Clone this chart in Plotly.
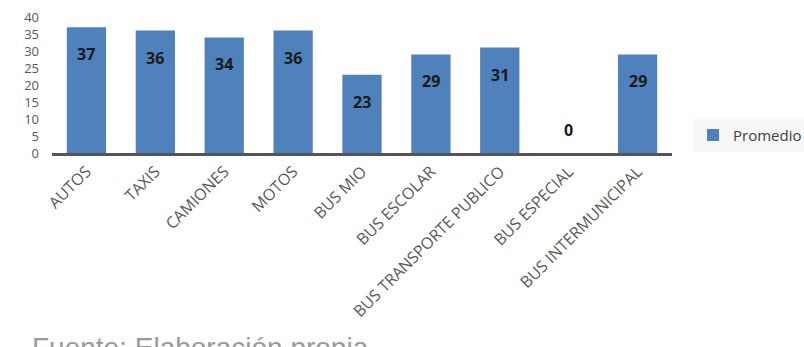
import plotly.graph_objects as go

categorias = ["AUTOS", "TAXIS", "CAMIONES", "MOTOS", "BUS MIO", "BUS ESCOLAR",
              "BUS TRANSPORTE PUBLICO", "BUS ESPECIAL", "BUS INTERMUNICIPAL"]
promedio = [37, 36, 34, 36, 23, 29, 31, 0, 29]
ticks_y = [0, 5, 10, 15, 20, 25, 30, 35, 40]

azul = "#4f81bd"
gris = "#595959"
fuente = "Open Sans, Liberation Sans, sans-serif"

fig = go.Figure()
fig.add_trace(go.Bar(
    x=categorias, y=promedio, name="Promedio",
    marker=dict(color=azul, line=dict(width=0)),
))

# value labels just below each bar top (above the baseline for zero)
for c, v in zip(categorias, promedio):
    fig.add_annotation(
        x=c, y=v, text=f"<b>{v}</b>", showarrow=False,
        yshift=-27 if v > 0 else 23,
        font=dict(family=fuente, size=16, color="#1a1a1a"),
    )

# source note, partly below the visible page edge
fig.add_annotation(
    x=-0.035, y=-1.305, xref="paper", yref="paper",
    text="Fuente: Elaboración propia", showarrow=False,
    xanchor="left", yanchor="top",
    font=dict(family="Liberation Sans, Arial, sans-serif", size=28, color="#9a9a9a"),
)

fig.update_layout(
    width=804, height=347,
    margin=dict(l=52, r=132, t=17, b=194, autoexpand=False),
    plot_bgcolor="white", paper_bgcolor="white",
    bargap=0.43,
    showlegend=True,
    legend=dict(
        xref="container", yref="container",
        x=0.862, y=0.61, xanchor="left", yanchor="middle",
        bgcolor="#f7f7f7",
        font=dict(family=fuente, size=15, color="#404040"),
        itemwidth=30,
    ),
    xaxis=dict(
        tickangle=-45,
        tickfont=dict(family=fuente, size=16, color=gris),
        showline=True, linecolor="#555555", linewidth=3,
        showgrid=False, ticks="",
    ),
    yaxis=dict(
        range=[0, 40], tickvals=ticks_y,
        tickfont=dict(family=fuente, size=13, color=gris),
        ticklabelstandoff=12,
        showgrid=False, zeroline=False, showline=False, ticks="",
    ),
)

fig.write_html("out.html")
